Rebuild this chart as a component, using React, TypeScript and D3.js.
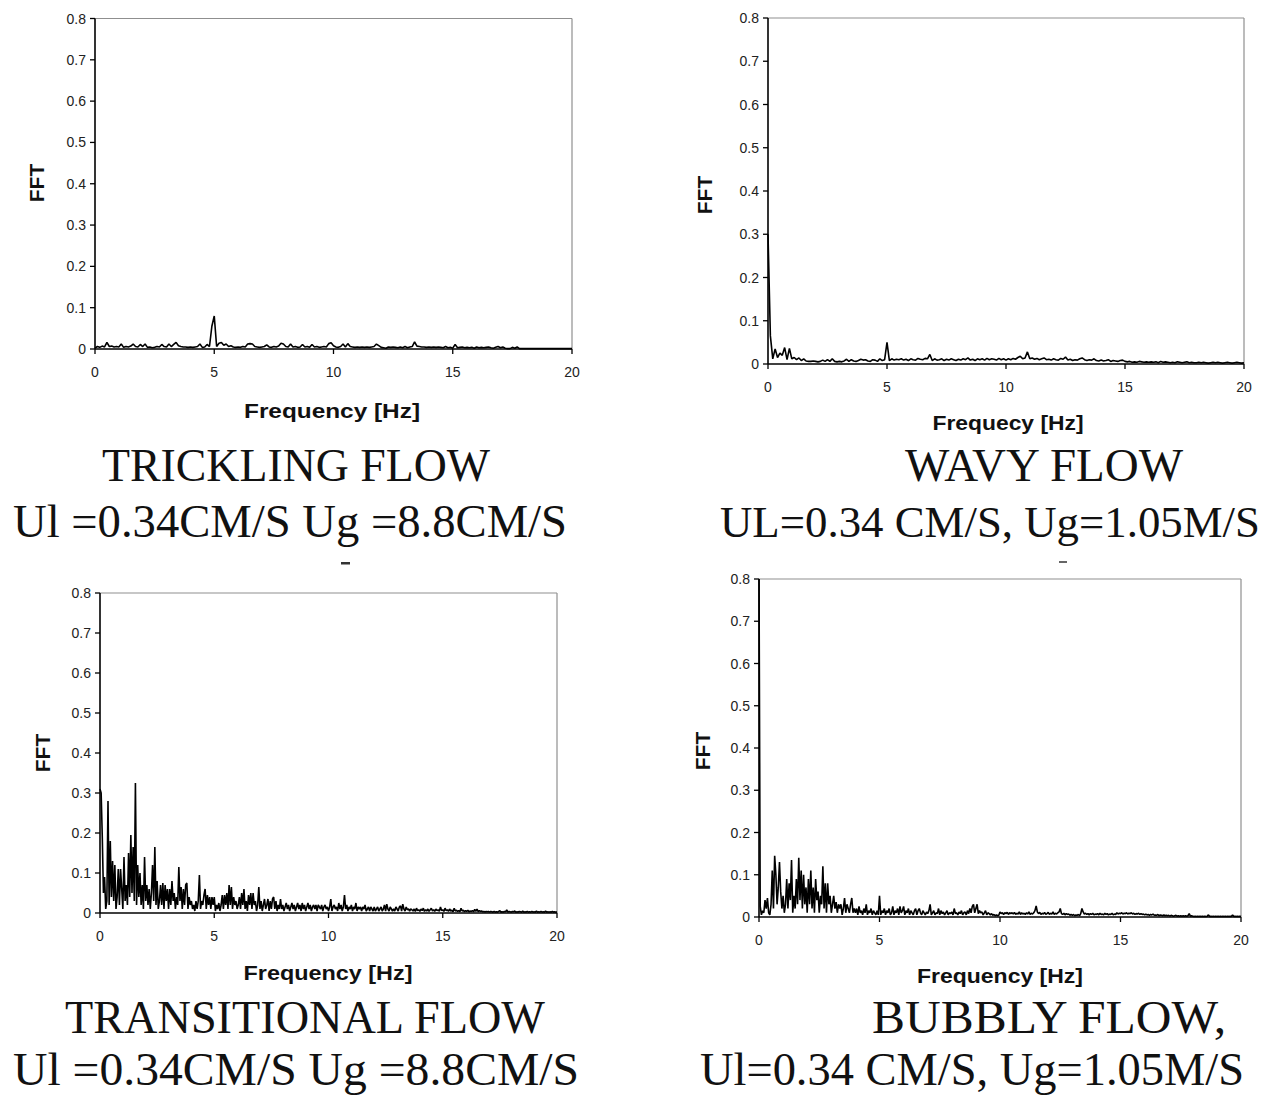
import React from "react";
import * as d3 from "d3";

// ---------- shared axis definitions ----------
const X_DOMAIN: [number, number] = [0, 20];
const Y_DOMAIN: [number, number] = [0, 0.8];
const X_TICKS = [0, 5, 10, 15, 20];
const X_TICK_LABELS = ["0", "5", "10", "15", "20"];
const Y_TICKS = [0, 0.1, 0.2, 0.3, 0.4, 0.5, 0.6, 0.7, 0.8];
const Y_TICK_LABELS = ["0", "0.1", "0.2", "0.3", "0.4", "0.5", "0.6", "0.7", "0.8"];

// ---------- series (FFT amplitude, sampled at a fixed frequency step) ----------
const TRICKLING_STEP = 0.1; // Hz
const tricklingFFT = [
  0.002, 0.006, 0.004, 0.007, 0.005, 0.016, 0.006, 0.007, 0.005, 0.006,
  0.005, 0.012, 0.004, 0.006, 0.005, 0.007, 0.012, 0.006, 0.005, 0.011,
  0.006, 0.012, 0.004, 0.005, 0.003, 0.004, 0.006, 0.005, 0.011, 0.006,
  0.005, 0.012, 0.006, 0.011, 0.016, 0.008, 0.006, 0.005, 0.005, 0.004,
  0.005, 0.004, 0.005, 0.006, 0.012, 0.004, 0.005, 0.011, 0.006, 0.055,
  0.08, 0.006, 0.014, 0.016, 0.009, 0.012, 0.006, 0.008, 0.005, 0.004,
  0.005, 0.004, 0.006, 0.005, 0.012, 0.013, 0.012, 0.006, 0.005, 0.004,
  0.005, 0.006, 0.01, 0.005, 0.004, 0.006, 0.005, 0.007, 0.014, 0.012,
  0.006, 0.005, 0.012, 0.005, 0.006, 0.004, 0.005, 0.011, 0.005, 0.006,
  0.004, 0.011, 0.005, 0.006, 0.004, 0.005, 0.006, 0.005, 0.013, 0.015,
  0.008, 0.005, 0.004, 0.006, 0.012, 0.005, 0.013, 0.006, 0.005, 0.004,
  0.005, 0.004, 0.005, 0.004, 0.005, 0.004, 0.005, 0.006, 0.012, 0.008,
  0.004, 0.003, 0.002, 0.005, 0.004, 0.005, 0.004, 0.003, 0.005, 0.003,
  0.006, 0.003, 0.005, 0.006, 0.017, 0.007, 0.006, 0.005, 0.005, 0.004,
  0.005, 0.004, 0.005, 0.004, 0.005, 0.004, 0.003, 0.006, 0.003, 0.004,
  0.002, 0.011, 0.003, 0.004, 0.005, 0.003, 0.004, 0.003, 0.004, 0.002,
  0.005, 0.003, 0.004, 0.003, 0.004, 0.005, 0.003, 0.002, 0.004, 0.006,
  0.003, 0.005, 0.002, 0.001, 0.001, 0.004, 0.002, 0.005, 0.001, 0.001,
  0.001, 0.001, 0.001, 0.001, 0.001, 0.001, 0.001, 0.001, 0.001, 0.001,
  0.001, 0.001, 0.001, 0.001, 0.001, 0.001, 0.001, 0.001, 0.001, 0.001,
  0.001,
];

const WAVY_STEP = 0.1; // Hz
const wavyFFT = [
  0.3, 0.065, 0.012, 0.035, 0.015, 0.025, 0.02, 0.038, 0.01, 0.036,
  0.012, 0.015, 0.01, 0.014, 0.008, 0.012, 0.007, 0.006, 0.006, 0.007,
  0.006, 0.005, 0.006, 0.009, 0.006, 0.01, 0.006, 0.012, 0.006, 0.005,
  0.006, 0.005, 0.007, 0.011, 0.006, 0.01, 0.007, 0.006, 0.008, 0.011,
  0.009, 0.01, 0.007, 0.006, 0.01, 0.009, 0.006, 0.012, 0.008, 0.01,
  0.05, 0.008, 0.012, 0.009, 0.011, 0.01, 0.012, 0.009, 0.011, 0.008,
  0.012, 0.01, 0.009, 0.013, 0.011, 0.01, 0.013, 0.012, 0.022, 0.008,
  0.012, 0.009, 0.01, 0.012, 0.008, 0.011, 0.009, 0.012, 0.01, 0.008,
  0.011, 0.009, 0.012, 0.01, 0.014, 0.009, 0.011, 0.008, 0.012, 0.01,
  0.012, 0.009, 0.013, 0.01, 0.012, 0.011, 0.009, 0.013, 0.01, 0.012,
  0.009, 0.012, 0.01, 0.013, 0.011, 0.015, 0.018, 0.012, 0.014, 0.028,
  0.012, 0.014, 0.011, 0.013, 0.01, 0.012, 0.014, 0.01, 0.011, 0.009,
  0.012, 0.01, 0.009, 0.013, 0.011, 0.016, 0.009, 0.011, 0.008, 0.01,
  0.009, 0.012, 0.014, 0.01, 0.008, 0.01, 0.009, 0.012, 0.008, 0.007,
  0.009, 0.007, 0.008, 0.01, 0.006, 0.008, 0.007, 0.006, 0.008, 0.009,
  0.006, 0.005, 0.006, 0.004, 0.005, 0.004, 0.006, 0.005, 0.004, 0.005,
  0.004, 0.005, 0.004, 0.005, 0.003, 0.006, 0.004, 0.005, 0.004, 0.003,
  0.004, 0.003, 0.005, 0.004, 0.003, 0.004, 0.005, 0.003, 0.004, 0.003,
  0.003, 0.004, 0.003, 0.004, 0.003, 0.002, 0.003, 0.004, 0.003, 0.004,
  0.003, 0.002, 0.003, 0.004, 0.003, 0.002, 0.003, 0.004, 0.003, 0.002,
  0.003,
];

const TRANSITIONAL_STEP = 0.05; // Hz
const transitionalFFT = [
  0.31, 0.30, 0.19, 0.05, 0.09, 0.01, 0.03, 0.28, 0.02, 0.18, 0.04, 0.13, 0.03, 0.12, 0.01, 0.04, 0.11, 0.02, 0.11, 0.06,
  0.01, 0.14, 0.03, 0.07, 0.02, 0.15, 0.04, 0.195, 0.05, 0.165, 0.03, 0.325, 0.02, 0.12, 0.04, 0.10, 0.02, 0.07, 0.01, 0.14,
  0.03, 0.07, 0.02, 0.06, 0.01, 0.05, 0.12, 0.03, 0.165, 0.02, 0.08, 0.01, 0.03, 0.07, 0.02, 0.075, 0.01, 0.07, 0.03, 0.06,
  0.01, 0.06, 0.02, 0.08, 0.03, 0.05, 0.01, 0.04, 0.02, 0.115, 0.03, 0.065, 0.01, 0.06, 0.02, 0.07, 0.075, 0.01, 0.04, 0.02,
  0.03, 0.01, 0.02, 0.005, 0.03, 0.01, 0.03, 0.095, 0.01, 0.03, 0.02, 0.045, 0.06, 0.01, 0.045, 0.02, 0.04, 0.01, 0.04, 0.02,
  0.04, 0.005, 0.02, 0.01, 0.025, 0.005, 0.02, 0.045, 0.01, 0.045, 0.02, 0.05, 0.01, 0.07, 0.02, 0.065, 0.01, 0.04, 0.02, 0.03,
  0.01, 0.02, 0.04, 0.01, 0.05, 0.02, 0.06, 0.01, 0.03, 0.005, 0.045, 0.02, 0.05, 0.01, 0.05, 0.02, 0.03, 0.005, 0.02, 0.065,
  0.01, 0.03, 0.005, 0.02, 0.035, 0.01, 0.02, 0.035, 0.005, 0.03, 0.01, 0.035, 0.04, 0.01, 0.03, 0.005, 0.02, 0.01, 0.035, 0.01,
  0.02, 0.005, 0.015, 0.025, 0.01, 0.02, 0.005, 0.015, 0.025, 0.01, 0.02, 0.005, 0.015, 0.025, 0.01, 0.02, 0.005, 0.025, 0.01, 0.02,
  0.005, 0.015, 0.025, 0.01, 0.02, 0.005, 0.015, 0.02, 0.01, 0.02, 0.005, 0.02, 0.015, 0.01, 0.02, 0.005, 0.015, 0.02, 0.01, 0.015,
  0.005, 0.015, 0.035, 0.005, 0.015, 0.02, 0.01, 0.015, 0.005, 0.025, 0.01, 0.02, 0.005, 0.015, 0.045, 0.01, 0.02, 0.005, 0.015, 0.01,
  0.02, 0.005, 0.015, 0.01, 0.025, 0.005, 0.015, 0.01, 0.015, 0.005, 0.015, 0.01, 0.02, 0.005, 0.01, 0.015, 0.005, 0.015, 0.01, 0.005,
  0.015, 0.005, 0.01, 0.015, 0.005, 0.01, 0.015, 0.005, 0.01, 0.02, 0.005, 0.022, 0.01, 0.005, 0.015, 0.01, 0.005, 0.01, 0.005, 0.015,
  0.01, 0.005, 0.015, 0.018, 0.005, 0.022, 0.01, 0.005, 0.015, 0.008, 0.01, 0.005, 0.01, 0.008, 0.005, 0.01, 0.004, 0.012, 0.006, 0.008,
  0.004, 0.01, 0.006, 0.012, 0.004, 0.008, 0.005, 0.01, 0.004, 0.008, 0.012, 0.005, 0.008, 0.004, 0.01, 0.006, 0.008, 0.004, 0.015, 0.006,
  0.008, 0.004, 0.012, 0.006, 0.008, 0.004, 0.01, 0.005, 0.007, 0.003, 0.012, 0.005, 0.007, 0.004, 0.006, 0.003, 0.012, 0.005, 0.007, 0.003,
  0.006, 0.004, 0.007, 0.003, 0.005, 0.004, 0.006, 0.003, 0.009, 0.004, 0.01, 0.003, 0.006, 0.004, 0.005, 0.003, 0.004, 0.002, 0.004, 0.003,
  0.004, 0.002, 0.004, 0.003, 0.002, 0.004, 0.002, 0.003, 0.002, 0.004, 0.006, 0.002, 0.003, 0.002, 0.004, 0.003, 0.008, 0.002, 0.004, 0.003,
  0.002, 0.004, 0.003, 0.005, 0.002, 0.003, 0.002, 0.004, 0.003, 0.002, 0.005, 0.002, 0.003, 0.002, 0.004, 0.002, 0.003, 0.002, 0.004, 0.002,
  0.003, 0.002, 0.005, 0.002, 0.003, 0.002, 0.004, 0.002, 0.003, 0.002, 0.005, 0.002, 0.003, 0.002, 0.003, 0.002, 0.004, 0.002, 0.003, 0.002,
  0.003,
];

const BUBBLY_STEP = 0.05; // Hz
const bubblyFFT = [
  0.82, 0.025, 0.005, 0.015, 0.01, 0.04, 0.02, 0.045, 0.01, 0.005, 0.03, 0.11, 0.02, 0.145, 0.10, 0.03, 0.07, 0.13, 0.06, 0.02,
  0.05, 0.01, 0.03, 0.09, 0.02, 0.08, 0.04, 0.135, 0.01, 0.05, 0.02, 0.09, 0.03, 0.14, 0.04, 0.11, 0.02, 0.10, 0.03, 0.07,
  0.01, 0.09, 0.03, 0.11, 0.02, 0.07, 0.01, 0.09, 0.04, 0.06, 0.01, 0.05, 0.03, 0.12, 0.02, 0.08, 0.01, 0.08, 0.03, 0.05,
  0.01, 0.03, 0.05, 0.02, 0.035, 0.01, 0.03, 0.02, 0.03, 0.005, 0.02, 0.045, 0.01, 0.03, 0.02, 0.01, 0.03, 0.045, 0.01, 0.02,
  0.01, 0.02, 0.005, 0.025, 0.01, 0.015, 0.005, 0.02, 0.01, 0.03, 0.005, 0.015, 0.01, 0.02, 0.005, 0.015, 0.01, 0.005, 0.015, 0.005,
  0.05, 0.005, 0.015, 0.01, 0.02, 0.005, 0.015, 0.01, 0.02, 0.005, 0.01, 0.025, 0.005, 0.015, 0.01, 0.02, 0.005, 0.025, 0.01, 0.015,
  0.025, 0.005, 0.015, 0.01, 0.02, 0.005, 0.015, 0.01, 0.005, 0.015, 0.02, 0.005, 0.015, 0.02, 0.01, 0.005, 0.015, 0.01, 0.005, 0.012,
  0.008, 0.015, 0.03, 0.005, 0.01, 0.015, 0.005, 0.01, 0.008, 0.02, 0.005, 0.015, 0.008, 0.012, 0.005, 0.01, 0.015, 0.005, 0.01, 0.008,
  0.012, 0.005, 0.02, 0.008, 0.01, 0.005, 0.012, 0.008, 0.015, 0.005, 0.01, 0.012, 0.005, 0.015, 0.008, 0.02, 0.01, 0.025, 0.03, 0.01,
  0.02, 0.03, 0.008, 0.015, 0.01, 0.012, 0.005, 0.01, 0.015, 0.005, 0.01, 0.008, 0.005, 0.008, 0.004, 0.006, 0.003, 0.005, 0.003, 0.004,
  0.012, 0.008, 0.01, 0.006, 0.01, 0.008, 0.011, 0.006, 0.01, 0.008, 0.01, 0.007, 0.011, 0.006, 0.009, 0.007, 0.012, 0.006, 0.01, 0.007,
  0.009, 0.006, 0.01, 0.007, 0.012, 0.006, 0.009, 0.007, 0.01, 0.015, 0.026, 0.012, 0.008, 0.011, 0.006, 0.009, 0.007, 0.011, 0.006, 0.008,
  0.011, 0.006, 0.009, 0.007, 0.012, 0.006, 0.009, 0.007, 0.01, 0.012, 0.02, 0.008, 0.006, 0.009, 0.005, 0.008, 0.006, 0.007, 0.004, 0.006,
  0.004, 0.006, 0.003, 0.005, 0.004, 0.006, 0.003, 0.008, 0.02, 0.012, 0.007, 0.009, 0.006, 0.008, 0.005, 0.008, 0.006, 0.009, 0.005, 0.007,
  0.006, 0.008, 0.005, 0.009, 0.006, 0.007, 0.005, 0.009, 0.006, 0.008, 0.005, 0.007, 0.006, 0.009, 0.005, 0.007, 0.006, 0.01, 0.007, 0.009,
  0.008, 0.01, 0.007, 0.009, 0.008, 0.01, 0.007, 0.009, 0.008, 0.01, 0.007, 0.009, 0.006, 0.008, 0.007, 0.009, 0.006, 0.008, 0.006, 0.007,
  0.005, 0.007, 0.005, 0.006, 0.004, 0.006, 0.005, 0.007, 0.004, 0.005, 0.004, 0.006, 0.003, 0.005, 0.004, 0.003, 0.005, 0.003, 0.004, 0.003,
  0.004, 0.002, 0.004, 0.003, 0.002, 0.003, 0.004, 0.002, 0.003, 0.002, 0.003, 0.002, 0.003, 0.002, 0.003, 0.002, 0.003, 0.008, 0.002, 0.003,
  0.002, 0.001, 0.002, 0.001, 0.002, 0.001, 0.002, 0.001, 0.002, 0.001, 0.002, 0.001, 0.002, 0.005, 0.001, 0.002, 0.001, 0.002, 0.001, 0.002,
  0.001, 0.002, 0.001, 0.002, 0.001, 0.002, 0.001, 0.002, 0.001, 0.002, 0.001, 0.002, 0.001, 0.005, 0.001, 0.002, 0.001, 0.002, 0.001, 0.002,
  0.001,
];

// ---------- texts ----------
const AXIS_Y_TITLE = "FFT";
const X_TITLES = ["Frequency [Hz]", "Frequecy [Hz]", "Frequency [Hz]", "Frequency [Hz]"];
const CAPTION_LINE1 = ["TRICKLING FLOW", "WAVY FLOW", "TRANSITIONAL FLOW", "BUBBLY FLOW,"];
const CAPTION_LINE2 = [
  "Ul =0.34CM/S Ug =8.8CM/S",
  "UL=0.34 CM/S, Ug=1.05M/S",
  "Ul =0.34CM/S Ug =8.8CM/S",
  "Ul=0.34 CM/S, Ug=1.05M/S",
];
const SERIES = [tricklingFFT, wavyFFT, transitionalFFT, bubblyFFT];
const STEPS = [TRICKLING_STEP, WAVY_STEP, TRANSITIONAL_STEP, BUBBLY_STEP];

// ---------- layout (page pixel positions) ----------
const LAYOUT = [
  { x0: 95, x1: 572, yTop: 18.5, yZero: 349, xtX: 332, xtY: 418, xtLen: 176, fX: 36, fY: 183, c1X: 102, c1Y: 481, c1Len: 388, c2X: 13, c2Y: 537, c2Len: 554, c2Fs: 46.5 },
  { x0: 768, x1: 1244, yTop: 18, yZero: 364, xtX: 1008, xtY: 430, xtLen: 151, fX: 704, fY: 195, c1X: 905, c1Y: 481, c1Len: 278, c2X: 720, c2Y: 537, c2Len: 540, c2Fs: 44.5 },
  { x0: 100, x1: 557, yTop: 593, yZero: 913, xtX: 328, xtY: 980, xtLen: 169, fX: 42, fY: 753, c1X: 65, c1Y: 1033, c1Len: 480, c2X: 13, c2Y: 1085, c2Len: 566, c2Fs: 46.5 },
  { x0: 759, x1: 1241, yTop: 579, yZero: 917, xtX: 1000, xtY: 983, xtLen: 166, fX: 702, fY: 751, c1X: 872, c1Y: 1033, c1Len: 354, c2X: 700, c2Y: 1085, c2Len: 544, c2Fs: 46.5 },
];

const SANS = "'Liberation Sans', Arial, Helvetica, sans-serif";
const SERIF = "'Liberation Serif', 'Times New Roman', Times, serif";

function Panel({ idx }: { idx: number }) {
  const L = LAYOUT[idx];
  const values = SERIES[idx];
  const step = STEPS[idx];
  const x = d3.scaleLinear().domain(X_DOMAIN).range([L.x0, L.x1]);
  const y = d3.scaleLinear().domain(Y_DOMAIN).range([L.yZero, L.yTop]);
  const line = d3
    .line<number>()
    .x((_, i) => x(i * step))
    .y((d) => y(d));
  const clipId = `clip-${idx}`;
  return (
    <g>
      <defs>
        <clipPath id={clipId}>
          <rect x={L.x0 - 2} y={L.yTop} width={L.x1 - L.x0 + 3} height={L.yZero - L.yTop + 1} />
        </clipPath>
      </defs>
      {/* frame: grey top and right */}
      <line x1={L.x0} x2={L.x1} y1={L.yTop} y2={L.yTop} stroke="#8f8f8f" strokeWidth={1.2} />
      <line x1={L.x1} x2={L.x1} y1={L.yTop} y2={L.yZero} stroke="#8f8f8f" strokeWidth={1.2} />
      {/* data */}
      <path
        d={line(values) || ""}
        fill="none"
        stroke="#000"
        strokeWidth={1.6}
        strokeLinejoin="bevel"
        clipPath={`url(#${clipId})`}
      />
      {/* axes */}
      <line x1={L.x0} x2={L.x0} y1={L.yTop} y2={L.yZero} stroke="#000" strokeWidth={1.6} />
      <line x1={L.x0} x2={L.x1} y1={L.yZero} y2={L.yZero} stroke="#000" strokeWidth={1.6} />
      {Y_TICKS.map((t, i) => (
        <g key={`y${i}`}>
          <line x1={L.x0 - 5} x2={L.x0} y1={y(t)} y2={y(t)} stroke="#000" strokeWidth={1.3} />
          <text x={L.x0 - 9} y={y(t) + 5} textAnchor="end" fontFamily={SANS} fontSize={14} fill="#222">
            {Y_TICK_LABELS[i]}
          </text>
        </g>
      ))}
      {X_TICKS.map((t, i) => (
        <g key={`x${i}`}>
          <line x1={x(t)} x2={x(t)} y1={L.yZero} y2={L.yZero + 5} stroke="#000" strokeWidth={1.3} />
          <text x={x(t)} y={L.yZero + 28} textAnchor="middle" fontFamily={SANS} fontSize={14} fill="#222">
            {X_TICK_LABELS[i]}
          </text>
        </g>
      ))}
      <text
        x={L.xtX}
        y={L.xtY}
        textAnchor="middle"
        fontFamily={SANS}
        fontWeight="bold"
        fontSize={21}
        fill="#111"
        textLength={L.xtLen}
        lengthAdjust="spacingAndGlyphs"
      >
        {X_TITLES[idx]}
      </text>
      <text
        transform={`translate(${L.fX},${L.fY}) rotate(-90)`}
        textAnchor="middle"
        dy="0.36em"
        fontFamily={SANS}
        fontWeight="bold"
        fontSize={21}
        fill="#111"
      >
        {AXIS_Y_TITLE}
      </text>
      <text
        x={L.c1X}
        y={L.c1Y}
        fontFamily={SERIF}
        fontSize={46.5}
        fill="#111"
        textLength={L.c1Len}
        lengthAdjust="spacingAndGlyphs"
      >
        {CAPTION_LINE1[idx]}
      </text>
      <text
        x={L.c2X}
        y={L.c2Y}
        fontFamily={SERIF}
        fontSize={L.c2Fs}
        fill="#111"
        textLength={L.c2Len}
        lengthAdjust="spacingAndGlyphs"
      >
        {CAPTION_LINE2[idx]}
      </text>
    </g>
  );
}

export default function App() {
  return (
    <svg
      width={1273}
      height={1096}
      viewBox="0 0 1273 1096"
      style={{ position: "absolute", left: 0, top: 0, background: "#fff" }}
    >
      <rect x={0} y={0} width={1273} height={1096} fill="#fff" />
      {LAYOUT.map((_, i) => (
        <Panel key={i} idx={i} />
      ))}
      {/* small clipped caption fragments visible under the top captions */}
      <rect x={341} y={562} width={9} height={2.5} fill="#333" />
      <rect x={1059} y={561} width={8} height={2} fill="#666" />
    </svg>
  );
}
